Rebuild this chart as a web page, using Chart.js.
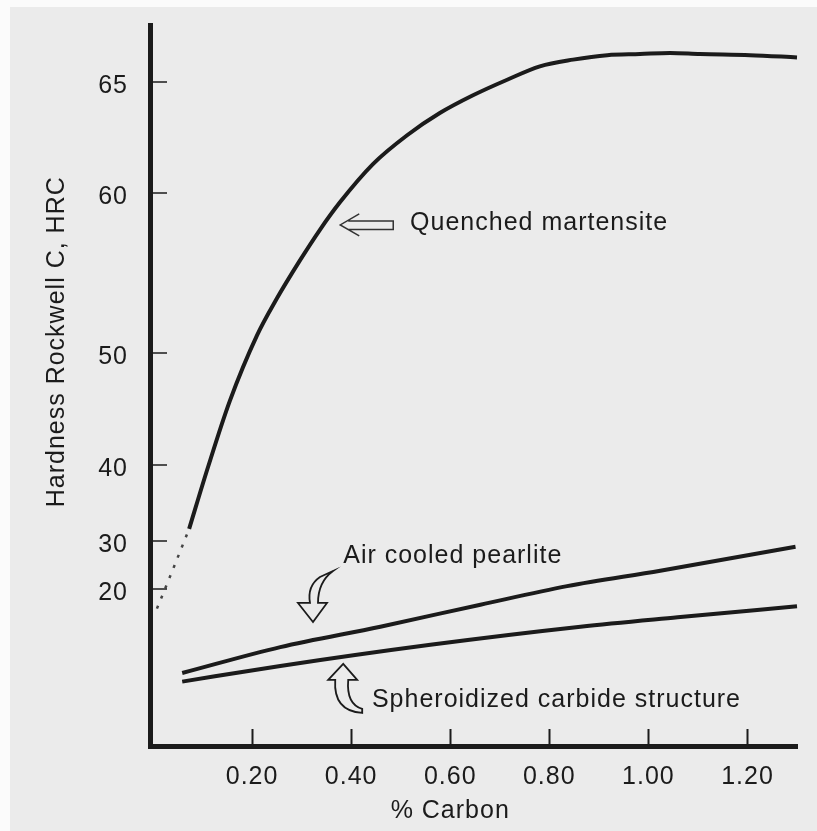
<!DOCTYPE html>
<html>
<head>
<meta charset="utf-8">
<script src="https://cdn.jsdelivr.net/npm/chart.js@4.4.1/dist/chart.umd.min.js"></script>
<style>
  html, body { margin: 0; padding: 0; background: #fff; }
  #wrap { width: 817px; height: 831px; }
</style>
</head>
<body>
<div id="wrap"><canvas id="hardnessChart" width="817" height="831"></canvas></div>
<script>
// values (% carbon vs HRC)
const carbonMartensite = [0.073, 0.111, 0.155, 0.210, 0.250, 0.297, 0.337, 0.377, 0.444, 0.513, 0.579, 0.646, 0.715, 0.781, 0.848, 0.917, 0.983, 1.044, 1.104, 1.205, 1.300];
const hrcMartensite = [31.6, 39.7, 45.7, 51.1, 53.4, 55.8, 57.7, 59.4, 61.3, 62.6, 63.6, 64.4, 65.1, 65.7, 66.0, 66.2, 66.25, 66.3, 66.25, 66.2, 66.1];
const carbonMartensiteDotted = [0.008, 0.040, 0.073];
const hrcMartensiteDotted = [17.5, 24.0, 31.6];
const carbonPearlite = [0.059, 0.257, 0.459, 0.661, 0.836, 1.024, 1.297];
const hrcPearlite = [9.3, 12.6, 15.2, 18.0, 20.6, 23.8, 28.8];
const carbonSpheroidized = [0.059, 0.257, 0.560, 0.863, 1.059, 1.30];
const hrcSpheroidized = [8.2, 10.2, 12.9, 15.2, 16.4, 17.8];

const xTicks = [0.20, 0.40, 0.60, 0.80, 1.00, 1.20];
const yTicks = [20, 30, 40, 50, 60, 65];

// the printed hardness axis is not linear: HRC value -> relative axis position
const hrcKnots = [0, 20, 30, 40, 50, 60, 65, 68];
const axisKnots = [0, 157, 205, 281, 393, 553, 664, 731];

function interp(v, from, to) {
    let i = 1;
    while (i < from.length - 1 && v > from[i]) i++;
    const t = (v - from[i - 1]) / (from[i] - from[i - 1]);
    return to[i - 1] + t * (to[i] - to[i - 1]);
}
const warp = (v) => interp(v, hrcKnots, axisKnots);
const unwarp = (w) => interp(w, axisKnots, hrcKnots);

class HardnessScale extends Chart.LinearScale {
    static id = 'hardness';
    static defaults = Chart.LinearScale.defaults;

    buildTicks() {
        return yTicks.map((v) => ({ value: v }));
    }
    configure() {
        super.configure();
        this._startValue = warp(this.min);
        this._endValue = warp(this.max);
        this._valueRange = this._endValue - this._startValue;
    }
    getPixelForValue(value) {
        return super.getPixelForValue(warp(value));
    }
    getValueForPixel(pixel) {
        return unwarp(super.getValueForPixel(pixel));
    }
}
Chart.register(HardnessScale);

const toPoints = (xs, ys) => xs.map((x, i) => ({ x, y: ys[i] }));

const ink = '#1b1b1b';
const paper = '#ebebeb';
const font = "'Liberation Sans', Arial, sans-serif";

const paperBackground = {
    id: 'paperBackground',
    beforeDraw(chart) {
        const { ctx, width, height } = chart;
        // the scanned lettering runs a little wide
        ctx.letterSpacing = '1px';
        ctx.save();
        ctx.fillStyle = '#fbfbfb';
        ctx.fillRect(0, 0, width, height);
        ctx.fillStyle = paper;
        ctx.fillRect(10, 7, width - 10, height - 7);
        ctx.restore();
    }
};

// short tick marks drawn inside the axes, as in the print
const innerTicks = {
    id: 'innerTicks',
    afterDraw(chart) {
        const { ctx, chartArea, scales: { x, y } } = chart;
        ctx.save();
        ctx.strokeStyle = ink;
        ctx.lineWidth = 2;
        x.ticks.forEach((t) => {
            const px = Math.round(x.getPixelForValue(t.value)) + 0.5;
            ctx.beginPath();
            ctx.moveTo(px, chartArea.bottom);
            ctx.lineTo(px, chartArea.bottom - 17);
            ctx.stroke();
        });
        ctx.lineWidth = 1.5;
        y.ticks.forEach((t) => {
            const py = Math.round(y.getPixelForValue(t.value));
            ctx.beginPath();
            ctx.moveTo(chartArea.left, py);
            ctx.lineTo(chartArea.left + 17, py);
            ctx.stroke();
        });
        ctx.restore();
    }
};

function hollowArrow(ctx, x0, y0, path) {
    ctx.beginPath();
    path.forEach(([dx, dy, kind, cx, cy], i) => {
        if (i === 0) ctx.moveTo(x0 + dx, y0 + dy);
        else if (kind === 'q') ctx.quadraticCurveTo(x0 + cx, y0 + cy, x0 + dx, y0 + dy);
        else ctx.lineTo(x0 + dx, y0 + dy);
    });
    ctx.closePath();
    ctx.fillStyle = paper;
    ctx.fill();
    ctx.stroke();
}

const annotations = {
    id: 'annotations',
    afterDraw(chart) {
        const { ctx, chartArea, scales: { x, y } } = chart;
        ctx.save();
        ctx.fillStyle = ink;
        ctx.font = `25px ${font}`;
        ctx.textBaseline = 'alphabetic';
        ctx.textAlign = 'left';
        ctx.fillText('Quenched martensite', x.getPixelForValue(0.519), y.getPixelForValue(57.7));
        ctx.fillText('Air cooled pearlite', x.getPixelForValue(0.384), y.getPixelForValue(25.4));
        ctx.fillText('Spheroidized carbide structure', x.getPixelForValue(0.442), y.getPixelForValue(4.97));

        // axis titles
        ctx.textAlign = 'center';
        ctx.textBaseline = 'middle';
        ctx.fillText('% Carbon', x.getPixelForValue(0.60), chartArea.bottom + 65);
        ctx.save();
        ctx.translate(chartArea.left - 93, y.getPixelForValue(50.7));
        ctx.rotate(-Math.PI / 2);
        ctx.fillText('Hardness Rockwell C, HRC', 0, 0);
        ctx.restore();

        // arrows
        ctx.strokeStyle = '#333';
        ctx.lineWidth = 1.5;
        const qx = x.getPixelForValue(0.378);
        const qy = y.getPixelForValue(58.0);
        ctx.beginPath();
        ctx.moveTo(qx + 19, qy - 11);
        ctx.lineTo(qx, qy);
        ctx.lineTo(qx + 19, qy + 11);
        ctx.moveTo(qx + 8, qy - 4);
        ctx.lineTo(qx + 53, qy - 4);
        ctx.lineTo(qx + 53, qy + 4.5);
        ctx.lineTo(qx + 8, qy + 4.5);
        ctx.stroke();

        ctx.lineWidth = 1.8;
        ctx.strokeStyle = ink;
        hollowArrow(ctx, x.getPixelForValue(0.323), y.getPixelForValue(15.8), [
            [0, 0], [-15, -19], [-3, -19], [7, -45, 'q', -6, -36], [20, -51], [5, -19, 'q', 5, -40], [14, -19]
        ]);
        hollowArrow(ctx, x.getPixelForValue(0.384), y.getPixelForValue(10.45), [
            [0, 0], [-15, 16], [-8, 16], [19, 49, 'q', -10, 47], [19, 45], [5, 16, 'q', 3, 40], [14, 16]
        ]);
        ctx.restore();
    }
};

const config = {
    type: 'line',
    data: {
        datasets: [
            {
                label: 'Quenched martensite',
                data: toPoints(carbonMartensite, hrcMartensite),
                borderColor: ink,
                borderWidth: 4,
                cubicInterpolationMode: 'monotone',
            },
            {
                label: 'Quenched martensite (dotted)',
                data: toPoints(carbonMartensiteDotted, hrcMartensiteDotted),
                borderColor: '#444',
                borderWidth: 2.5,
                borderDash: [3, 8],
            },
            {
                label: 'Air cooled pearlite',
                data: toPoints(carbonPearlite, hrcPearlite),
                borderColor: ink,
                borderWidth: 4,
                cubicInterpolationMode: 'monotone',
            },
            {
                label: 'Spheroidized carbide structure',
                data: toPoints(carbonSpheroidized, hrcSpheroidized),
                borderColor: ink,
                borderWidth: 4,
                cubicInterpolationMode: 'monotone',
            },
        ],
    },
    options: {
        responsive: false,
        animation: false,
        clip: 8,
        elements: { point: { radius: 0 } },
        layout: { padding: { top: 25, right: 20, left: 0, bottom: 0 } },
        plugins: {
            legend: { display: false },
            tooltip: { enabled: false },
        },
        scales: {
            x: {
                type: 'linear',
                min: -0.006,
                max: 1.30,
                afterBuildTicks: (scale) => {
                    scale.ticks = xTicks.map((v) => ({ value: v }));
                },
                afterFit: (scale) => {
                    scale.height = 85;
                    scale.paddingLeft = 0;
                    scale.paddingRight = 0;
                },
                grid: { display: false, drawTicks: false },
                border: { display: true, width: 5, color: ink },
                ticks: {
                    padding: 16,
                    color: ink,
                    font: { family: font, size: 25 },
                    callback: (v) => v.toFixed(2),
                },
            },
            y: {
                type: 'hardness',
                min: 0,
                max: 67.55,
                afterFit: (scale) => {
                    scale.width = 150;
                    scale.paddingTop = 0;
                    scale.paddingBottom = 0;
                },
                grid: { display: false, drawTicks: false },
                border: { display: true, width: 5, color: ink },
                ticks: {
                    padding: 22,
                    labelOffset: 4,
                    color: ink,
                    font: { family: font, size: 25 },
                    callback: (v) => String(v),
                },
            },
        },
    },
    plugins: [paperBackground, innerTicks, annotations],
};

document.addEventListener('DOMContentLoaded', () => {
    const $canvas = document.getElementById('hardnessChart');
    new Chart($canvas, config);
});
</script>
</body>
</html>
